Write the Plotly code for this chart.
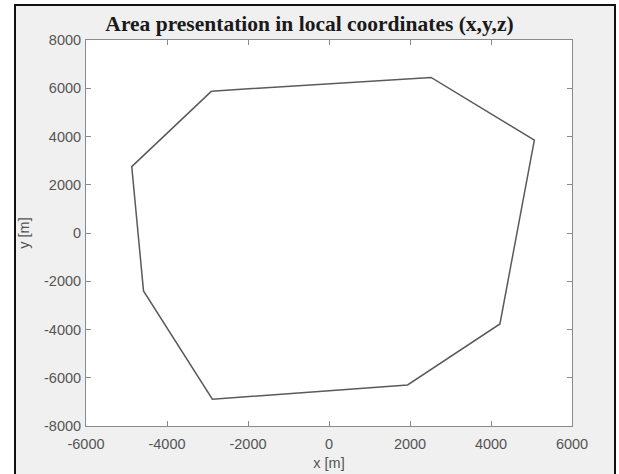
import plotly.graph_objects as go

# Polygon vertices (local coordinates, metres), closed
x_vals = [-2900, 2520, 5070, 4220, 1940, -2880, -4580, -4870, -2900]
y_vals = [5880, 6450, 3850, -3770, -6300, -6890, -2400, 2750, 5880]

x_ticks = [-6000, -4000, -2000, 0, 2000, 4000, 6000]
y_ticks = [-8000, -6000, -4000, -2000, 0, 2000, 4000, 6000, 8000]

W, H = 619, 474
L, R, T, B = 86, 572, 40, 426

fig = go.Figure()
fig.add_trace(go.Scatter(x=x_vals, y=y_vals, mode="lines",
                         line=dict(color="#5a5a5a", width=1.5),
                         hoverinfo="skip", showlegend=False))

def px_to_paper_x(p):
    return (p - L) / (R - L)

def px_to_paper_y(p):
    return (B - p) / (B - T)

shapes = [
    dict(type="rect", xref="paper", yref="paper", layer="below",
         x0=px_to_paper_x(15), x1=px_to_paper_x(615),
         y0=px_to_paper_y(490), y1=px_to_paper_y(5),
         fillcolor="#f0f0f0", line=dict(color="#111111", width=2)),
    dict(type="rect", xref="x domain", yref="y domain", layer="below",
         x0=0, x1=1, y0=0, y1=1, fillcolor="white", line=dict(width=0)),
]

tick_font = dict(family="Liberation Sans, Arial", size=14.5, color="#555555")
axis_common = dict(showgrid=False, zeroline=False, showline=True,
                   linecolor="#8a8a8a", linewidth=1, mirror="ticks",
                   ticks="inside", ticklen=5, tickcolor="#8a8a8a",
                   tickfont=tick_font, automargin=False)

fig.update_layout(
    width=W, height=H,
    margin=dict(l=L, r=W - R, t=T, b=H - B, autoexpand=False),
    paper_bgcolor="white", plot_bgcolor="white",
    shapes=shapes,
    title=dict(text="<b>Area presentation in local coordinates (x,y,z)</b>",
               x=0.5, xref="container", xanchor="center",
               y=1 - 23.5 / H, yanchor="middle",
               font=dict(family="Liberation Serif, Times New Roman", size=21.5, color="#1a1a1a")),
    xaxis=dict(range=[-6000, 6000], tickvals=x_ticks, ticktext=[str(v) for v in x_ticks],
               ticklabelstandoff=5,
               title=dict(text="x [m]", standoff=6, font=tick_font),
               **axis_common),
    yaxis=dict(range=[-8000, 8000], tickvals=y_ticks, ticktext=[str(v) for v in y_ticks],
               ticklabelstandoff=1,
               title=dict(text="y [m]", standoff=10, font=tick_font),
               **axis_common),
)

fig.write_html("out.html", config={"displayModeBar": False},
               post_script="document.body.style.margin='0';")
